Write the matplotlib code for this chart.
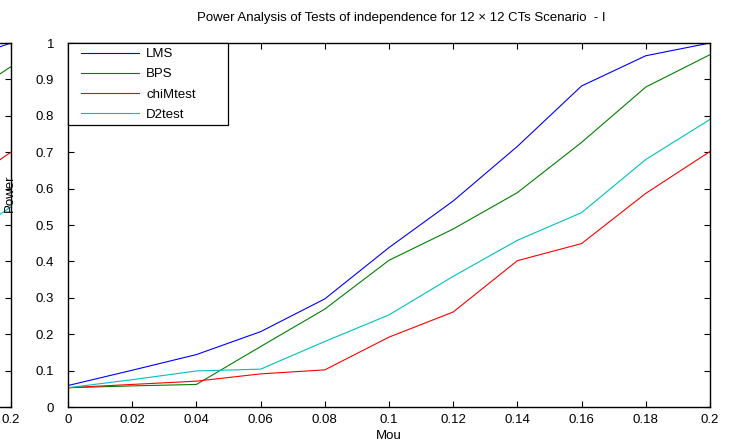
import matplotlib
matplotlib.use("Agg")
import matplotlib.pyplot as plt
from matplotlib.patches import Rectangle

# power curves, 12 x 12 CTs, scenario I
mou = [0.0, 0.02, 0.04, 0.06, 0.08, 0.10, 0.12, 0.14, 0.16, 0.18, 0.20]
lms = [0.059, 0.101, 0.144, 0.207, 0.297, 0.438, 0.566, 0.716, 0.882, 0.965, 1.0]
bps = [0.053, 0.058, 0.062, 0.166, 0.269, 0.403, 0.489, 0.589, 0.727, 0.879, 0.968]
chim = [0.053, 0.062, 0.071, 0.091, 0.102, 0.192, 0.261, 0.402, 0.449, 0.587, 0.702]
d2 = [0.053, 0.075, 0.099, 0.104, 0.180, 0.253, 0.359, 0.458, 0.534, 0.680, 0.790]

# tail of the neighbouring panel that sticks in at the left edge
left_mou = [0.18, 0.20]
left_lms = [0.94, 1.0]
left_bps = [0.82, 0.935]
left_chim = [0.58, 0.70]
left_d2 = [0.43, 0.55]

names = ["LMS", "BPS", "chiMtest", "D2test"]
colors = ["#0000ff", "#008000", "#ff0000", "#00bfbf"]

xticks = [0.0, 0.02, 0.04, 0.06, 0.08, 0.10, 0.12, 0.14, 0.16, 0.18, 0.20]
xlabels = ["0", "0.02", "0.04", "0.06", "0.08", "0.1", "0.12", "0.14", "0.16", "0.18", "0.2"]
yticks = [0.0, 0.1, 0.2, 0.3, 0.4, 0.5, 0.6, 0.7, 0.8, 0.9, 1.0]
ylabels = ["0", "0.1", "0.2", "0.3", "0.4", "0.5", "0.6", "0.7", "0.8", "0.9", "1"]

FS = 9.5
plt.rcParams["font.family"] = ["Liberation Sans", "DejaVu Sans"]
plt.rcParams["font.size"] = FS

W, H = 734, 444
fig = plt.figure(figsize=(W / 100, H / 100), dpi=100)


def matlab_box(ax):
    ax.tick_params(direction="in", top=True, right=True, length=4, width=0.8,
                   labelsize=FS)
    ax.tick_params(axis="x", pad=5)
    ax.tick_params(axis="y", pad=10)
    for s in ax.spines.values():
        s.set_linewidth(1.0)


# left neighbour (mostly off-canvas), only its "0.2" label shows
axl = fig.add_axes([11 / W - 642 / W, 37 / H, 642 / W, 364 / H])
for ys, c in zip([left_lms, left_bps, left_chim, left_d2], colors):
    axl.plot(left_mou, ys, color=c, lw=0.8)
axl.set_xlim(0, 0.2)
axl.set_ylim(0, 1)
axl.set_xticks(xticks)
axl.set_xticklabels([""] * (len(xlabels) - 1) + [xlabels[-1]])
axl.set_yticks(yticks)
axl.set_yticklabels([])
matlab_box(axl)

# main panel
ax = fig.add_axes([68 / W, 37 / H, 642 / W, 364 / H])
for ys, c, n in zip([lms, bps, chim, d2], colors, names):
    ax.plot(mou, ys, color=c, lw=0.8, label=n)
ax.set_xlim(0, 0.2)
ax.set_ylim(0, 1)
ax.set_xticks(xticks)
ax.set_xticklabels(xlabels)
ax.set_yticks(yticks)
ax.set_yticklabels(ylabels)
matlab_box(ax)

ax.set_xlabel("Mou", fontsize=FS, labelpad=3)
fig.text(10 / W, 1 - 193 / H, "Power", rotation=90, ha="center", va="center", fontsize=FS)
ax.set_title("Power Analysis of Tests of independence for 12 \u00d7 12 CTs Scenario  - I",
             fontsize=FS, x=0.519, pad=16)

# matlab-style legend box: wider than its content
ax.add_patch(Rectangle((0, 1 - 82 / 364), 160 / 642, 82 / 364, transform=ax.transAxes,
                       facecolor="white", edgecolor="black", lw=0.9, zorder=4,
                       clip_on=False))
leg = ax.legend(loc="upper left", bbox_to_anchor=(13 / 642, 1 - 5 / 364),
                borderaxespad=0, borderpad=0, frameon=False,
                handlelength=4.4, handletextpad=0.55, labelspacing=0.6,
                fontsize=FS)
leg.set_zorder(5)

fig.savefig("out.png", dpi=100)
